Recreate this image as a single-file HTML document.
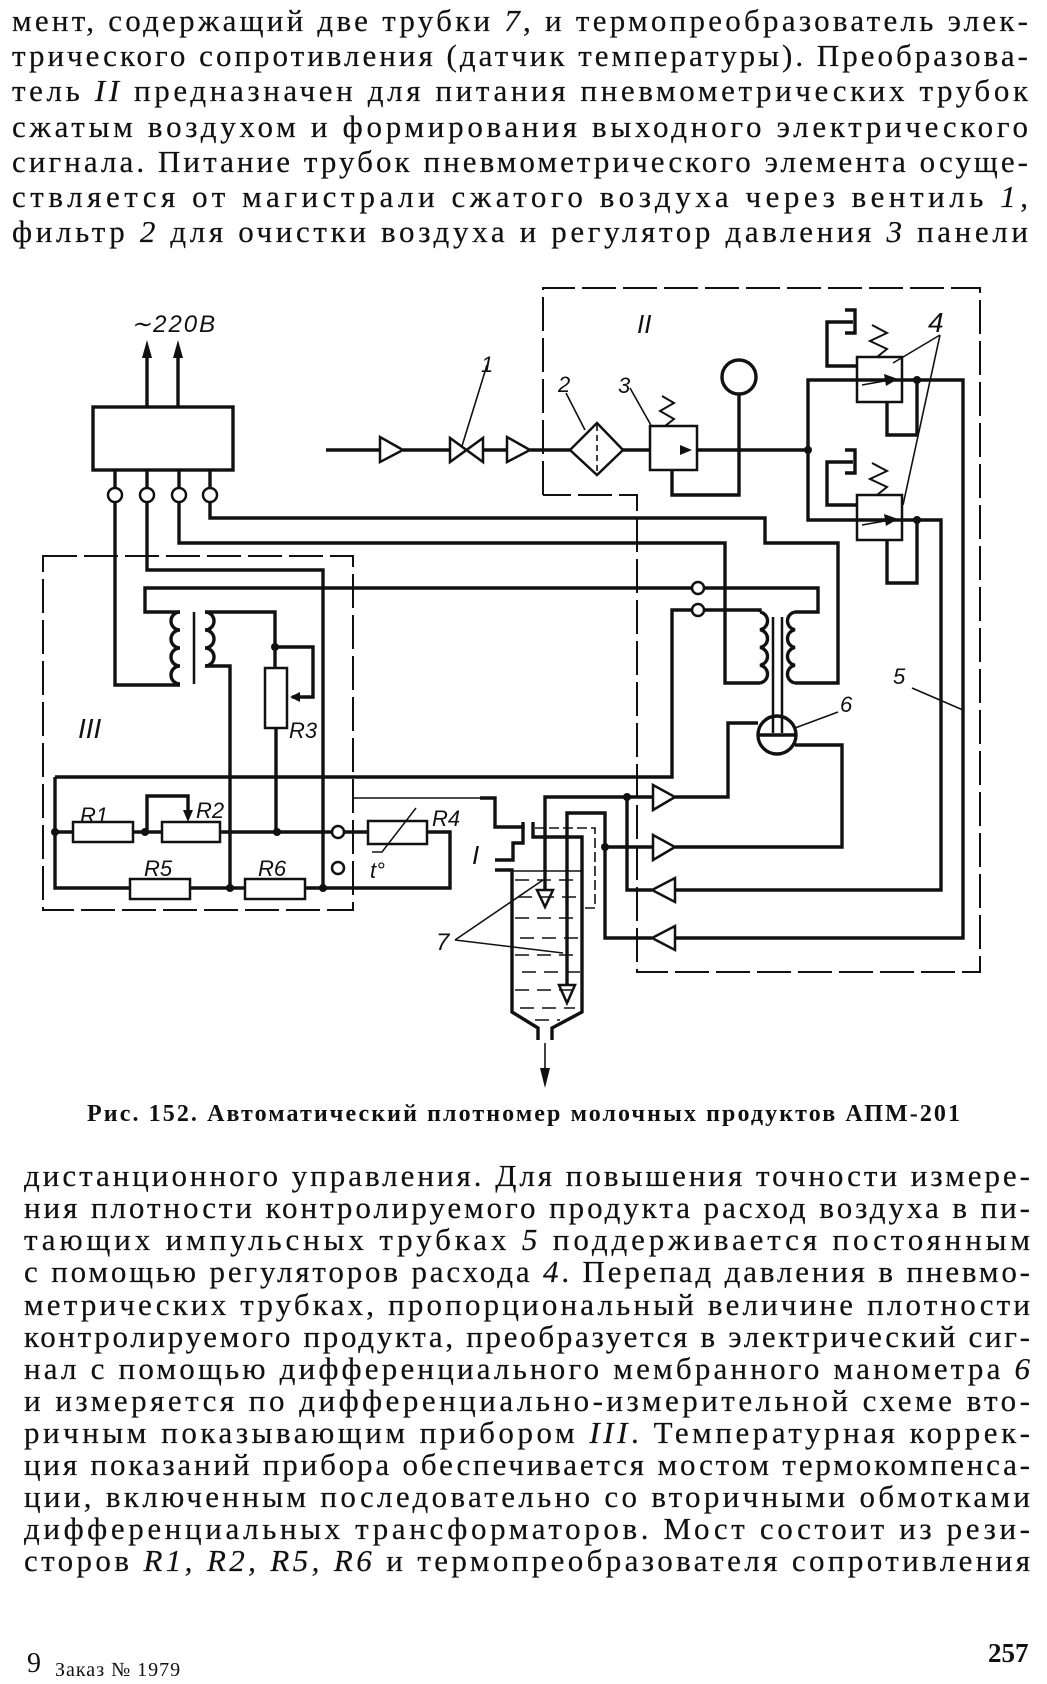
<!DOCTYPE html>
<html><head><meta charset="utf-8"><style>
html,body{margin:0;padding:0;background:#fff;}
svg{display:block;}
.t{font-family:"Liberation Serif",serif;font-size:31px;fill:#111;stroke:#111;stroke-width:0.2;}
.i{font-style:italic;}
.lb{font-family:"Liberation Sans",sans-serif;font-style:italic;font-size:22px;fill:#111;}
</style></head><body>
<svg width="1047" height="1684" viewBox="0 0 1047 1684" xmlns="http://www.w3.org/2000/svg">
<rect width="1047" height="1684" fill="#fff"/>
<g class="t">
<text x="12" y="31" textLength="1016" lengthAdjust="spacing">мент, содержащий две трубки <tspan class="i">7</tspan>, и термопреобразователь элек-</text>
<text x="12" y="66" textLength="1016" lengthAdjust="spacing">трического сопротивления (датчик температуры). Преобразова-</text>
<text x="12" y="101" textLength="1016" lengthAdjust="spacing">тель <tspan class="i">II</tspan> предназначен для питания пневмометрических трубок</text>
<text x="12" y="137" textLength="1016" lengthAdjust="spacing">сжатым воздухом и формирования выходного электрического</text>
<text x="12" y="172" textLength="1016" lengthAdjust="spacing">сигнала. Питание трубок пневмометрического элемента осуще-</text>
<text x="12" y="207" textLength="1016" lengthAdjust="spacing">ствляется от магистрали сжатого воздуха  через  вентиль  <tspan class="i">1</tspan>,</text>
<text x="12" y="242" textLength="1016" lengthAdjust="spacing">фильтр <tspan class="i">2</tspan> для очистки воздуха и регулятор давления <tspan class="i">3</tspan> панели</text>

<text x="24" y="1186" textLength="1006" lengthAdjust="spacing">дистанционного управления. Для повышения точности измере-</text>
<text x="24" y="1218" textLength="1006" lengthAdjust="spacing">ния плотности контролируемого продукта расход воздуха в пи-</text>
<text x="24" y="1250" textLength="1006" lengthAdjust="spacing">тающих импульсных трубках  <tspan class="i">5</tspan> поддерживается  постоянным</text>
<text x="24" y="1282" textLength="1006" lengthAdjust="spacing">с помощью регуляторов расхода <tspan class="i">4</tspan>. Перепад давления в пневмо-</text>
<text x="24" y="1315" textLength="1006" lengthAdjust="spacing">метрических трубках, пропорциональный величине  плотности</text>
<text x="24" y="1347" textLength="1006" lengthAdjust="spacing">контролируемого продукта, преобразуется в электрический сиг-</text>
<text x="24" y="1379" textLength="1006" lengthAdjust="spacing">нал с помощью дифференциального мембранного манометра <tspan class="i">6</tspan></text>
<text x="24" y="1411" textLength="1006" lengthAdjust="spacing">и измеряется по дифференциально-измерительной  схеме  вто-</text>
<text x="24" y="1443" textLength="1006" lengthAdjust="spacing">ричным показывающим прибором <tspan class="i">III</tspan>. Температурная коррек-</text>
<text x="24" y="1475" textLength="1006" lengthAdjust="spacing">ция показаний прибора обеспечивается мостом термокомпенса-</text>
<text x="24" y="1507" textLength="1006" lengthAdjust="spacing">ции, включенным последовательно со вторичными обмотками</text>
<text x="24" y="1539" textLength="1006" lengthAdjust="spacing">дифференциальных трансформаторов. Мост состоит  из рези-</text>
<text x="24" y="1571" textLength="1006" lengthAdjust="spacing">сторов <tspan class="i">R1, R2, R5, R6</tspan> и термопреобразователя сопротивления</text>
</g>
<text x="87" y="1121" font-family="Liberation Serif,serif" font-weight="bold" font-size="24" textLength="873" lengthAdjust="spacing" fill="#111">Рис. 152. Автоматический плотномер молочных продуктов АПМ-201</text>
<text x="27" y="1672" font-family="Liberation Serif,serif" font-size="28" fill="#111">9</text>
<text x="55" y="1676" font-family="Liberation Serif,serif" font-size="20" letter-spacing="1" fill="#111">Заказ № 1979</text>
<text x="988" y="1662" font-family="Liberation Serif,serif" font-weight="bold" font-size="27" fill="#111">257</text>

<g fill="none" stroke="#111" stroke-width="3.4" stroke-linejoin="miter">
<rect x="93" y="407" width="140" height="63"/>
<line x1="147" y1="407" x2="147" y2="352"/>
<line x1="178" y1="407" x2="178" y2="352"/>
<line x1="115" y1="470" x2="115" y2="488"/><line x1="147" y1="470" x2="147" y2="488"/>
<line x1="179" y1="470" x2="179" y2="488"/><line x1="210" y1="470" x2="210" y2="488"/>
<circle cx="115" cy="495" r="7" stroke-width="2.5"/><circle cx="147" cy="495" r="7" stroke-width="2.5"/>
<circle cx="179" cy="495" r="7" stroke-width="2.5"/><circle cx="210" cy="495" r="7" stroke-width="2.5"/>
<polyline points="115,502 115,685 180,685"/>
<polyline points="147,502 147,570 323,570 323,888"/>
<polyline points="179,502 179,543 725,543 725,683 760,683"/>
<polyline points="210,502 210,518 765,518 765,543 838,543 838,683 795,683"/>
<polyline points="180,612 145,612 145,588 691,588"/>
<path d="M180,612 a9,9 0 0 0 0,18 a9,9 0 0 0 0,18 a9,9 0 0 0 0,18 a9,9 0 0 0 0,18"/>
<line x1="194" y1="612" x2="194" y2="684" stroke-width="2.5"/>
<path d="M205,612 a9,9 0 0 1 0,18 a9,9 0 0 1 0,18 a9,9 0 0 1 0,18"/>
<polyline points="205,612 275,612 275,668"/>
<polyline points="205,666 230,666 230,888"/>
<polyline points="275,647 313,647 313,697 292,697"/>
<rect x="265" y="668" width="22" height="60" stroke-width="2.5"/>
<line x1="276" y1="728" x2="276" y2="832"/>
<polyline points="55,777 672,777 672,610 692,610"/>
<polyline points="55,777 55,888 130,888"/>
<rect x="130" y="879" width="60" height="20" stroke-width="2.5"/>
<line x1="190" y1="888" x2="245" y2="888"/>
<rect x="245" y="879" width="60" height="20" stroke-width="2.5"/>
<polyline points="305,888 450,888 450,832 427,832"/>
<rect x="368" y="821" width="59" height="23" stroke-width="2.5"/>
<line x1="55" y1="832" x2="73" y2="832"/>
<rect x="73" y="822" width="60" height="20" stroke-width="2.5"/>
<line x1="133" y1="832" x2="162" y2="832"/>
<rect x="162" y="822" width="58" height="20" stroke-width="2.5"/>
<line x1="220" y1="832" x2="332" y2="832"/>
<circle cx="338" cy="832" r="6" stroke-width="2.5"/>
<line x1="344" y1="832" x2="368" y2="832"/>
<circle cx="338" cy="868" r="6" stroke-width="2.5"/>
<polyline points="147,832 147,796 188,796 188,814"/>
<polyline points="416,808 382,852 372,852" stroke-width="1.5"/>
<circle cx="698" cy="588" r="6" stroke-width="2.5"/>
<circle cx="698" cy="610" r="6" stroke-width="2.5"/>
<polyline points="704,588 818,588 818,612 795,612"/>
<polyline points="704,610 760,610 760,612"/>
<path d="M760,612 a9,9 0 0 1 0,17.75 a9,9 0 0 1 0,17.75 a9,9 0 0 1 0,17.75 a9,9 0 0 1 0,17.75"/>
<path d="M795,612 a9,9 0 0 0 0,17.75 a9,9 0 0 0 0,17.75 a9,9 0 0 0 0,17.75 a9,9 0 0 0 0,17.75"/>
<line x1="773" y1="617" x2="773" y2="733" stroke-width="2.5"/>
<line x1="782" y1="617" x2="782" y2="733" stroke-width="2.5"/>
<circle cx="777" cy="735" r="19"/>
<line x1="758" y1="735" x2="796" y2="735"/>
<polyline points="758,723 728,723 728,797 675,797"/>
<polyline points="795,745 842,745 842,847 675,847"/>
<polyline points="545,890 545,797 653,797"/>
<polyline points="567,985 567,813 605,813 605,938 652,938"/>
<polyline points="627,797 627,890 652,890"/>
<line x1="605" y1="847" x2="653" y2="847"/>
<polyline points="675,890 941,890 941,520 808,520 808,380 963,380 963,938 675,938"/>
<polygon points="653,785 653,810 675,797" stroke-width="2.5"/>
<polygon points="653,835 653,860 675,847" stroke-width="2.5"/>
<polygon points="675,878 675,902 652,890" stroke-width="2.5"/>
<polygon points="675,926 675,950 652,938" stroke-width="2.5"/>
<polygon points="537,890 553,890 545,907" stroke-width="2.5"/>
<polygon points="559,985 575,985 567,1003" stroke-width="2.5"/>
<polyline points="480,798 495,798 495,827 523,827 523,822"/>
<polyline points="533,822 533,837 582,837 582,1012 552,1028 552,1040"/>
<polyline points="495,860 513,860 513,843 523,843 523,827"/>
<polyline points="495,870 512,870 512,1012 538,1028 538,1040"/>
<line x1="326" y1="450" x2="380" y2="450"/>
<polygon points="380,437 380,462 403,450" stroke-width="2.5"/>
<line x1="403" y1="450" x2="450" y2="450"/>
<polygon points="450,438 450,462 483,438 483,462" stroke-width="2.5"/>
<line x1="483" y1="450" x2="507" y2="450"/>
<polygon points="507,437 507,462 530,450" stroke-width="2.5"/>
<line x1="530" y1="450" x2="570" y2="450"/>
<polygon points="570,450 597,423 623,450 597,475" stroke-width="2.5"/>
<line x1="623" y1="450" x2="650" y2="450"/>
<rect x="650" y="426" width="47" height="44" stroke-width="2.5"/>
<line x1="697" y1="450" x2="808" y2="450"/>
<circle cx="739" cy="377" r="17"/>
<polyline points="739,394 739,495 672,495 672,470"/>
<polyline points="665,426 674,419 660,411 674,403 662,396" stroke-width="2"/>
<rect x="857" y="357" width="45" height="45" stroke-width="2.5"/>
<polyline points="917,380 917,435 887,435 887,402"/>
<polyline points="877,357 887,349 870,341 887,333 872,325" stroke-width="2"/>
<polyline points="845,310 855,310 855,333 845,333"/>
<polyline points="853,322 827,322 827,366 857,366"/>
<rect x="857" y="495" width="45" height="45" stroke-width="2.5"/>
<polyline points="917,520 917,583 887,583 887,540"/>
<polyline points="877,495 887,487 870,479 887,471 872,463" stroke-width="2"/>
<polyline points="845,450 855,450 855,473 845,473"/>
<polyline points="853,462 827,462 827,505 857,505"/>
</g>
<g fill="#111">
<polygon points="147,340 142,358 152,358"/><polygon points="178,340 173,358 183,358"/>
<polygon points="290,697 300,692 300,702"/>
<polygon points="188,822 183,810 193,810"/>
<polygon points="692,450 680,445 680,455"/>
<polygon points="898,379 884,374 886,386"/>
<polygon points="898,519 884,514 886,526"/>
<circle cx="55" cy="832" r="4"/><circle cx="145" cy="832" r="4"/><circle cx="277" cy="832" r="4"/>
<circle cx="230" cy="888" r="4"/><circle cx="323" cy="888" r="4"/><circle cx="275" cy="647" r="4"/>
<circle cx="808" cy="450" r="4"/><circle cx="917" cy="380" r="4"/><circle cx="917" cy="520" r="4"/>
<circle cx="627" cy="797" r="4"/><circle cx="605" cy="847" r="4"/>
<polygon points="545,1088 540,1068 550,1068"/>
</g>
<g fill="none" stroke="#111" stroke-width="1.6">
<line x1="862" y1="385" x2="890" y2="380"/><line x1="862" y1="525" x2="890" y2="520"/>
<line x1="545" y1="1043" x2="545" y2="1075"/>
<line x1="597" y1="425" x2="597" y2="474" stroke-dasharray="6 4"/>
<polyline points="535,828 595,828 595,908 582,908" stroke-dasharray="10 4"/>
<polyline points="353,798 480,798"/>
<g stroke-width="2" stroke-dasharray="34 7">
<polygon points="43,556 353,556 353,910 43,910"/>
<polyline points="543,495 543,288 980,288 980,972 637,972 637,495 543,495"/>
</g>
<line x1="512" y1="871" x2="582" y2="871"/>
<g stroke-dasharray="14 8">
<line x1="515" y1="880" x2="580" y2="880"/><line x1="518" y1="897" x2="580" y2="897"/>
<line x1="515" y1="918" x2="580" y2="918"/><line x1="520" y1="938" x2="580" y2="938"/>
<line x1="515" y1="955" x2="580" y2="955"/><line x1="522" y1="972" x2="580" y2="972"/>
<line x1="515" y1="990" x2="580" y2="990"/><line x1="520" y1="1008" x2="575" y2="1008"/>
<line x1="535" y1="1020" x2="560" y2="1020"/>
</g>
<line x1="487" y1="365" x2="462" y2="446"/>
<line x1="566" y1="393" x2="585" y2="430"/>
<line x1="630" y1="388" x2="652" y2="427"/>
<line x1="940" y1="335" x2="893" y2="363"/>
<line x1="940" y1="335" x2="903" y2="505"/>
<line x1="912" y1="688" x2="963" y2="710"/>
<line x1="838" y1="712" x2="795" y2="728"/>
<line x1="455" y1="940" x2="543" y2="880"/>
<line x1="455" y1="940" x2="563" y2="953"/>
</g>
<g class="lb">
<text x="131" y="332" font-size="24" letter-spacing="2">∼220В</text>
<text x="481" y="372">1</text>
<text x="558" y="392">2</text>
<text x="618" y="393">3</text>
<text x="637" y="333" font-size="26">II</text>
<text x="928" y="332" font-size="28">4</text>
<text x="893" y="684">5</text>
<text x="840" y="712">6</text>
<text x="78" y="738" font-size="28">III</text>
<text x="472" y="864" font-size="26">I</text>
<text x="436" y="950" font-size="24">7</text>
<text x="80" y="823">R1</text>
<text x="196" y="818">R2</text>
<text x="289" y="738">R3</text>
<text x="432" y="826">R4</text>
<text x="144" y="876">R5</text>
<text x="258" y="876">R6</text>
<text x="370" y="878">t°</text>
</g>
</svg>
</body></html>
